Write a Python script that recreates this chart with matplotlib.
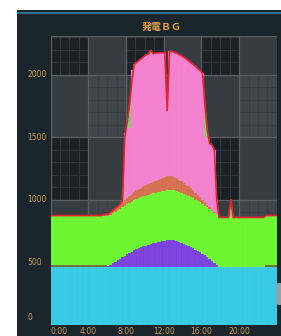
import matplotlib
matplotlib.use('Agg')
import matplotlib.pyplot as plt
import numpy as np
from matplotlib.patches import Rectangle, FancyBboxPatch
import matplotlib.transforms as mtransforms

# ---------------- data (96 x 15-minute slots) ----------------
slot_hours = np.arange(96) * 0.25

cyan = [458] * 96
olive = [15] * 24 + [0] * 67 + [15] * 5
purple = [0] * 24 + [12, 22, 33, 45, 57, 69, 81, 93,
                     105, 116, 126, 136, 145, 153, 161, 168,
                     175, 181, 187, 193, 199, 203, 207, 211,
                     214, 217, 219, 219, 216, 211, 205, 198,
                     190, 182, 173, 164, 154, 143, 132, 120,
                     108, 95, 82, 68, 52, 36, 20] + [0] * 25
green = [400] * 96
brown = [0] * 22 + [5, 10, 15, 19, 23, 27, 31, 36, 42, 48,
                    54, 59, 63, 67, 71, 74, 77, 80, 83, 86, 89, 92,
                    95, 99, 103, 107, 110, 113, 115, 114, 110, 105, 99, 93,
                    87, 81, 75, 69, 62, 55, 48, 41, 34, 27, 21, 15,
                    10, 6, 3] + [0] * 25
pink = [0] * 31 + [535, 598, 542, 993, 1024,
                   1026, 1030, 1034, 1039, 1044, 1043, 1036, 1029,
                   1023, 1017, 1010, 1002, 996, 520, 998, 997,
                   999, 1001, 1003, 1006, 1008, 1009, 1009, 1009,
                   1011, 1012, 1012, 1014, 1015, 520, 534, 509,
                   520, 500, 119] + [0] * 25
total = [873] * 22 + [878, 883, 885, 899, 914, 930, 946, 963, 990,
                      1500, 1620, 1760, 1950, 2085,
                      2100, 2115, 2130, 2145, 2160, 2168, 2200, 2172,
                      2175, 2177, 2178, 2178, 2178, 1708, 2190, 2188,
                      2183, 2175, 2165, 2155, 2143, 2130, 2115, 2100,
                      2085, 2068, 2050, 2033, 2015, 1760, 1560, 1450,
                      1440, 1400, 1000] + [858] * 5 + [1005] + [858] * 14 + [873] * 5

x_ticks = [0, 4, 8, 12, 16, 20]
x_labels = ['0:00', '4:00', '8:00', '12:00', '16:00', '20:00']
y_ticks = [0, 500, 1000, 1500, 2000]
y_labels = ['0', '500', '1000', '1500', '2000']
title = '発電ＢＧ'

# ---------------- figure ----------------
W, H = 281, 336
fig = plt.figure(figsize=(W / 100, H / 100), dpi=100, facecolor='white')

# dark panel
fig.patches.append(Rectangle((17 / W, 0), 1, 1 - 10 / H, transform=fig.transFigure,
                             facecolor='#1b262c', edgecolor='none', zorder=-10))
fig.patches.append(Rectangle((17 / W, 1 - 14 / H), 1, 2.5 / H, transform=fig.transFigure,
                             facecolor='#2f6e93', edgecolor='none', zorder=-9))
fig.patches.append(FancyBboxPatch((276.5 / W, 1 - 305 / H), 6 / W, 22 / H,
                                  boxstyle='round,pad=0,rounding_size=0.008',
                                  transform=fig.transFigure,
                                  facecolor='#9aa1a6', edgecolor='none', zorder=10))

ax_l, ax_r, ax_t, ax_b = 50.5, 276.8, 36.0, 324.5
ax = fig.add_axes([ax_l / W, (H - ax_b) / H, (ax_r - ax_l) / W, (ax_b - ax_t) / H])
ax.set_zorder(1)
ymax = 2312
ax.set_xlim(0, 24)
ax.set_ylim(0, ymax)
ax.set_facecolor('#1a2227')
for s in ax.spines.values():
    s.set_visible(False)
ax.set_xticks([])
ax.set_yticks([])

# checkerboard background
xb = [0, 4, 8, 12, 16, 20, 24]
yb = [0, 500, 1000, 1500, 2000, ymax]
for c in range(6):
    for r in range(5):
        n = (c % 2) + (r % 2)
        col = ['#1a2227', '#373c41', '#40454a'][n]
        ax.add_patch(Rectangle((xb[c], yb[r]), xb[c + 1] - xb[c], yb[r + 1] - yb[r],
                               facecolor=col, edgecolor='none', zorder=0))
# minor grid
for h in range(1, 24):
    if h % 4:
        ax.axvline(h, color='#363d42', lw=0.6, zorder=0.5)
for v in range(100, ymax, 100):
    if v % 500:
        ax.axhline(v, color='#363d42', lw=0.6, zorder=0.5)
# major grid
for h in xb:
    ax.axvline(h, color='#5a6065', lw=0.9, zorder=0.6)
for v in yb:
    ax.axhline(v, color='#5a6065', lw=0.9, zorder=0.6)

# ---------------- series ----------------
xc = slot_hours + 0.125
ax.fill_between(xc, 0, total, color='#8cc774', lw=0, zorder=2)
bottom = np.zeros(96)
for vals, col in [(cyan, '#35c8e3'), (olive, '#6e6c2c'), (purple, '#7a40de'),
                  (green, '#6af52c'), (brown, '#d5704c'), (pink, '#f47fd0')]:
    v = np.array(vals, dtype=float)
    ax.bar(xc, v, width=0.25, bottom=bottom, color=col, lw=0.3,
           edgecolor=(1, 1, 1, 0.10), zorder=3)
    bottom = bottom + v
ax.plot(xc, total, color='#e8202c', lw=1.2, zorder=5, solid_joinstyle='miter')

# ---------------- labels ----------------
lab_col = '#d39c52'
ytr = mtransforms.blended_transform_factory(fig.transFigure, ax.transData)
for v, t in zip(y_ticks, y_labels):
    if v == 0:
        tr = mtransforms.offset_copy(ytr, fig=fig, x=0, y=2, units='dots')
        ax.text(27.5 / W, v, t, transform=tr, ha='left', va='bottom',
                fontsize=5.5, color=lab_col, family='DejaVu Sans', clip_on=False)
    else:
        ax.text(27.5 / W, v, t, transform=ytr, ha='left', va='center',
                fontsize=5.5, color=lab_col, family='DejaVu Sans', clip_on=False)
xtr = mtransforms.blended_transform_factory(ax.transData, fig.transFigure)
for v, t in zip(x_ticks, x_labels):
    ax.text(v, 5 / H, t, transform=xtr, ha='left' if v == 0 else 'center', va='center',
            fontsize=5.5, color=lab_col, family='DejaVu Sans', clip_on=False)

fig.text(161.7 / W, 1 - 26.5 / H, title, ha='center', va='center', fontsize=7.2,
         fontweight='bold', color='#e3a045', family=['Noto Sans CJK JP', 'DejaVu Sans'])

fig.savefig('out.png', dpi=100, facecolor='white')
